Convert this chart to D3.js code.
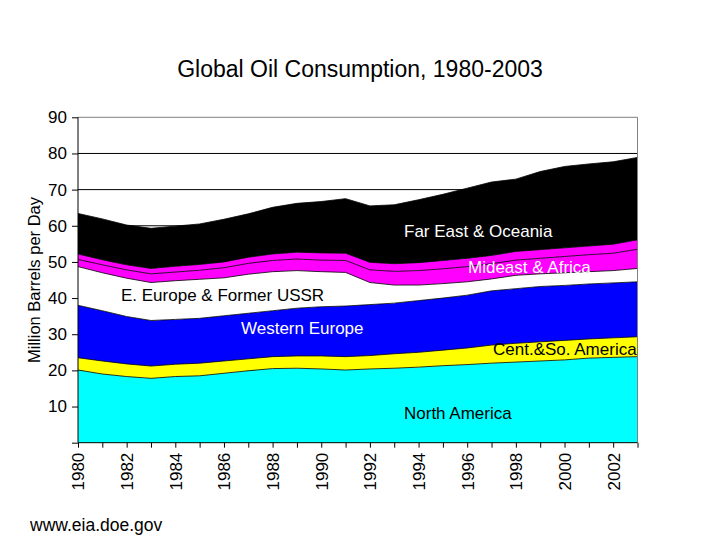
<!DOCTYPE html>
<html>
<head>
<meta charset="utf-8">
<script src="https://cdn.jsdelivr.net/npm/d3@7"></script>
<style>
  html, body { margin: 0; padding: 0; background: #ffffff; }
  svg { display: block; }
  text { font-family: "Liberation Sans", Arial, sans-serif; }
</style>
</head>
<body>
<svg id="chart" width="720" height="540"></svg>
<script>
// ---- Data (million barrels per day) ----
const years = [1980,1981,1982,1983,1984,1985,1986,1987,1988,1989,1990,1991,1992,1993,1994,1995,1996,1997,1998,1999,2000,2001,2002,2003];
const northAmerica  = [20.1,19.0,18.3,17.8,18.3,18.5,19.2,19.9,20.5,20.6,20.4,20.1,20.4,20.6,20.9,21.3,21.6,22.0,22.3,22.6,22.9,23.4,23.6,23.8];
const centSoAmerica = [3.4,3.6,3.5,3.4,3.4,3.5,3.4,3.3,3.3,3.4,3.6,3.7,3.7,4.0,4.1,4.3,4.6,5.0,5.2,5.3,5.4,5.3,5.4,5.5];
const westernEurope = [14.5,13.9,13.1,12.6,12.4,12.4,12.5,12.6,12.7,13.2,13.6,14.0,14.1,14.0,14.3,14.4,14.6,15.0,15.1,15.3,15.2,15.2,15.2,15.2];
const eEuropeUSSR   = [10.7,10.5,10.6,10.5,10.7,10.8,10.5,10.8,10.8,10.4,9.7,9.3,6.1,5.0,4.3,4.0,3.7,3.3,3.7,3.5,3.5,3.4,3.4,3.7];
const mideast       = [2.0,2.2,2.3,2.4,2.4,2.5,2.8,3.0,3.1,3.2,3.2,3.3,3.5,3.8,4.0,4.1,4.2,4.2,4.2,4.3,4.5,4.7,4.8,5.3];
const africa        = [1.5,1.4,1.4,1.5,1.6,1.6,1.6,1.7,1.8,1.9,2.0,2.0,2.1,2.1,2.2,2.3,2.3,2.3,2.4,2.4,2.4,2.4,2.5,2.6];
const farEastOceania= [11.2,11.3,11.0,11.1,11.1,11.2,11.8,12.0,12.9,13.5,14.2,15.1,15.6,16.3,17.4,18.3,19.4,20.3,20.0,21.6,22.5,22.7,22.8,22.8];

const seriesKeys   = ["northAmerica","centSoAmerica","westernEurope","eEuropeUSSR","mideast","africa","farEastOceania"];
const seriesColors = ["#00FFFF","#FFFF00","#0000FF","#FFFFFF","#FF00FF","#FF00FF","#000000"];
const yTickValues  = [0,10,20,30,40,50,60,70,80,90];
const xTickLabels  = ["1980","1982","1984","1986","1988","1990","1992","1994","1996","1998","2000","2002"];
const titleText = "Global Oil Consumption, 1980-2003";
const yTitleText = "Million Barrels per Day";
const footerText = "www.eia.doe.gov";
const areaLabels = [
  {text: "Far East & Oceania", x: 404, y: 237, color: "#FFFFFF"},
  {text: "Mideast & Africa", x: 468, y: 273, color: "#FFFFFF"},
  {text: "E. Europe & Former USSR", x: 121, y: 301, color: "#000000"},
  {text: "Western Europe", x: 241, y: 334, color: "#FFFFFF"},
  {text: "Cent.&So. America", x: 493, y: 355, color: "#000000"},
  {text: "North America", x: 404, y: 419, color: "#000000"}
];

// ---- Build table ----
const seriesArrays = {northAmerica, centSoAmerica, westernEurope, eEuropeUSSR, mideast, africa, farEastOceania};
const rows = years.map((yr, i) => {
  const r = {year: yr};
  seriesKeys.forEach(k => r[k] = seriesArrays[k][i]);
  return r;
});

const svg = d3.select("#chart");
const L = 78, R = 637.5, T = 117.3, B = 442.7;

const x = d3.scaleLinear().domain([1980, 2003]).range([L, R]);
const y = d3.scaleLinear().domain([0, 90]).range([B, T]);

// Title
svg.append("text")
  .attr("x", 360).attr("y", 77)
  .attr("text-anchor", "middle")
  .style("font-size", "23px")
  .text(titleText);

// Gridlines (behind areas)
svg.append("g").selectAll("line")
  .data(yTickValues.filter(d => d > 0 && d < 90))
  .join("line")
  .attr("x1", L).attr("x2", R)
  .attr("y1", d => y(d)).attr("y2", d => y(d))
  .attr("stroke", "#000").attr("stroke-width", 1);

// Stacked areas
const stack = d3.stack().keys(seriesKeys);
const stacked = stack(rows);
const area = d3.area()
  .x(d => x(d.data.year))
  .y0(d => y(d[0]))
  .y1(d => y(d[1]));
const topLine = d3.line()
  .x(d => x(d.data.year))
  .y(d => y(d[1]));

const gA = svg.append("g");
gA.selectAll("path.area")
  .data(stacked)
  .join("path")
  .attr("class", "area")
  .attr("d", area)
  .attr("fill", (d, i) => seriesColors[i]);

// Area labels
svg.append("g").selectAll("text")
  .data(areaLabels)
  .join("text")
  .attr("x", d => d.x).attr("y", d => d.y)
  .attr("fill", d => d.color)
  .style("font-size", "17px")
  .text(d => d.text);

gA.selectAll("path.top")
  .data(stacked)
  .join("path")
  .attr("class", "top")
  .attr("d", topLine)
  .attr("fill", "none")
  .attr("stroke", "#000")
  .attr("stroke-width", 0.8);

// Plot border (top and right, gray)
svg.append("line").attr("x1", L).attr("x2", R).attr("y1", T).attr("y2", T)
  .attr("stroke", "#808080").attr("stroke-width", 1);
svg.append("line").attr("x1", R).attr("x2", R).attr("y1", T).attr("y2", B)
  .attr("stroke", "#808080").attr("stroke-width", 1);

// Y axis
const yAxis = d3.axisLeft(y)
  .tickValues(yTickValues)
  .tickSize(6)
  .tickPadding(5)
  .tickFormat(d => d === 0 ? "" : d);
const gy = svg.append("g").attr("transform", `translate(${L},0)`).call(yAxis);
gy.select(".domain").attr("stroke", "#000").attr("d", `M0,${T}V${B}`);
gy.selectAll(".tick line").attr("stroke", "#000");
gy.selectAll(".tick text")
  .attr("fill", "#000")
  .style("font-size", "17px")
  .style("font-family", "'Liberation Sans', Arial, sans-serif");

// X axis
const xAxis = d3.axisBottom(x)
  .tickValues(years)
  .tickSize(5)
  .tickFormat(d => xTickLabels.includes(String(d)) ? String(d) : "");
const gx = svg.append("g").attr("transform", `translate(0,${B})`).call(xAxis);
gx.select(".domain").attr("stroke", "#000").attr("d", `M${L},0H${R}`);
gx.selectAll(".tick line").attr("stroke", "#000");
gx.selectAll(".tick text")
  .attr("transform", "rotate(-90)")
  .attr("text-anchor", "end")
  .attr("x", -10)
  .attr("y", 0)
  .attr("dy", "0.35em")
  .attr("fill", "#000")
  .style("font-size", "17px")
  .style("font-family", "'Liberation Sans', Arial, sans-serif");

// Y axis title
svg.append("text")
  .attr("transform", "translate(40,280) rotate(-90)")
  .attr("text-anchor", "middle")
  .style("font-size", "16.5px")
  .text(yTitleText);

// Footer
svg.append("text")
  .attr("x", 30).attr("y", 531)
  .style("font-size", "17.5px")
  .text(footerText);
</script>
</body>
</html>
